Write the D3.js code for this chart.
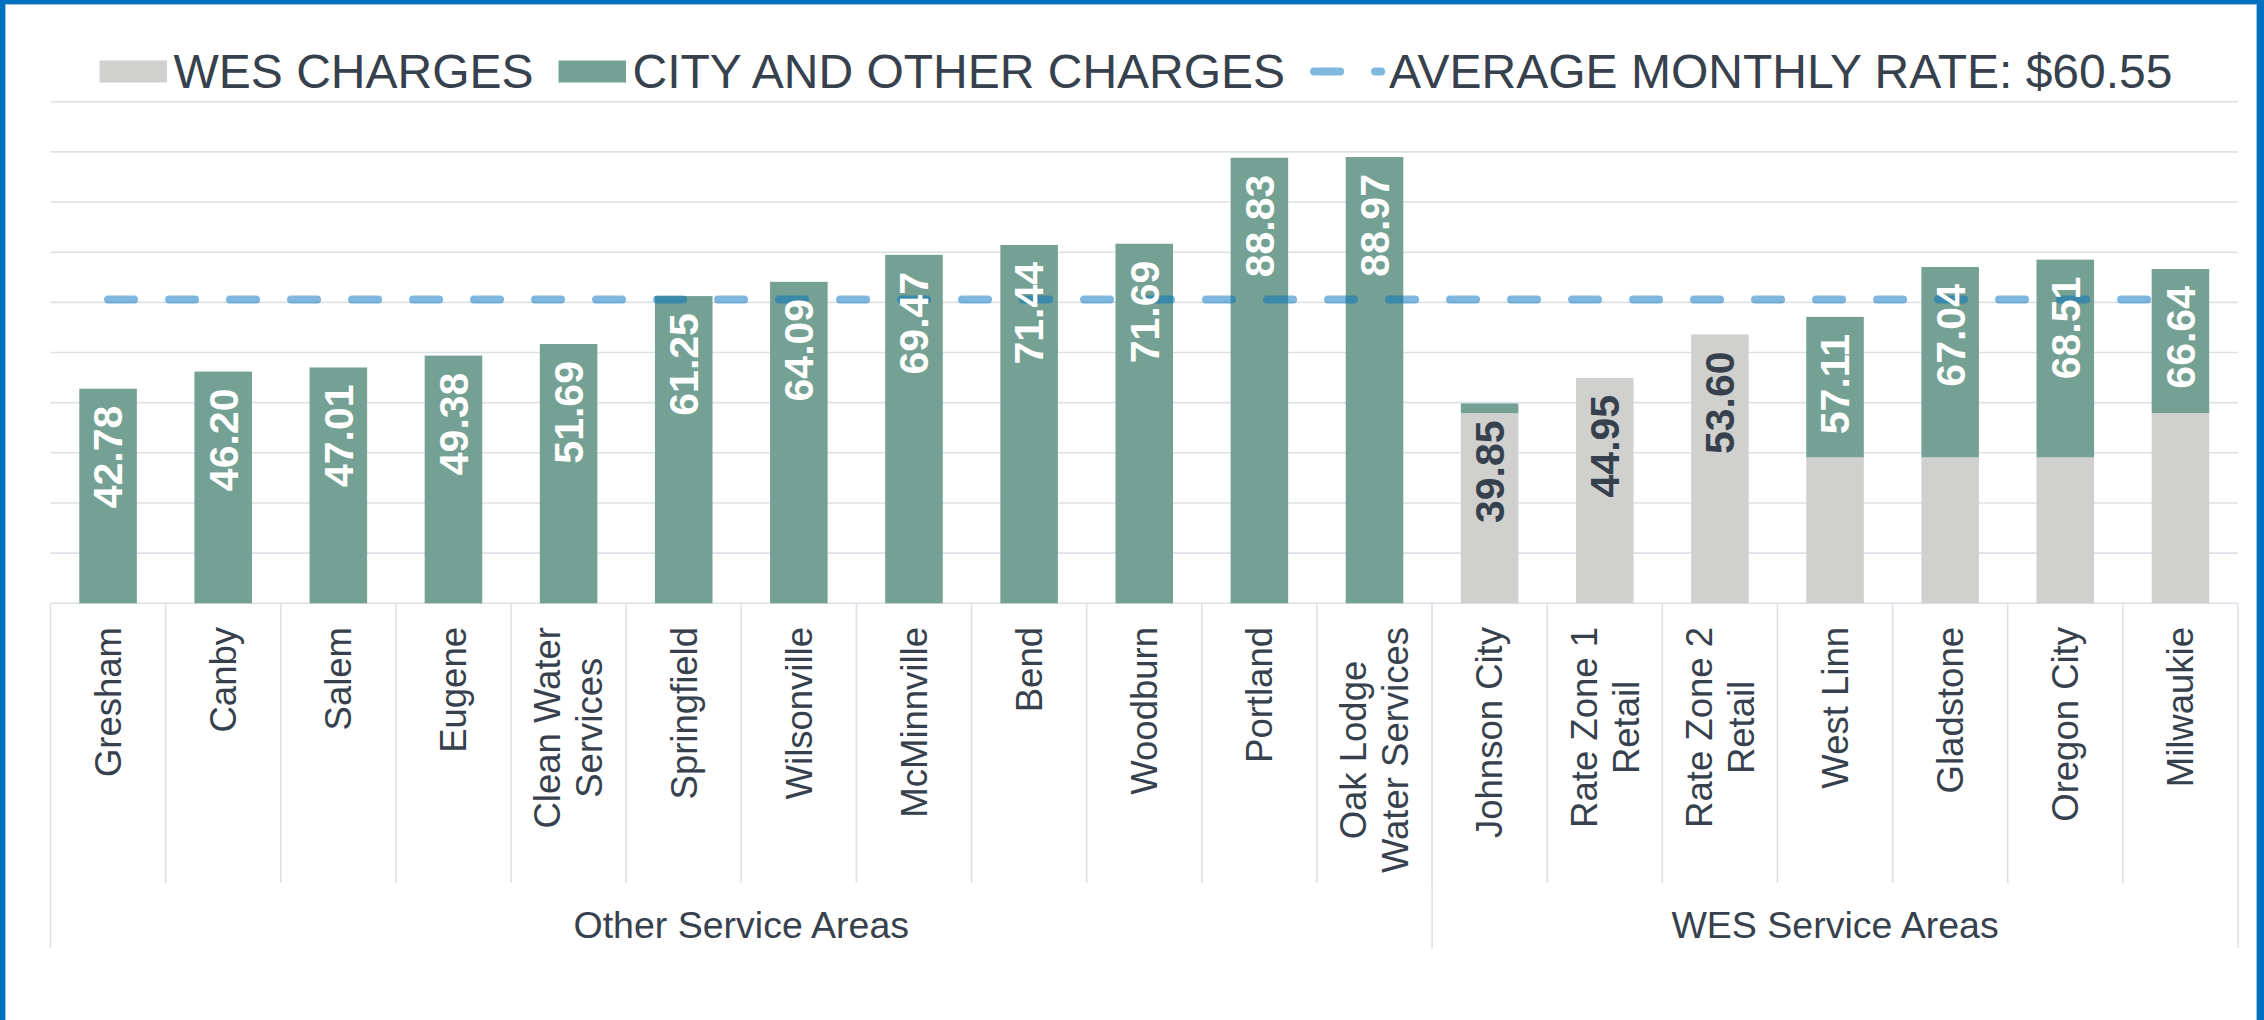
<!DOCTYPE html>
<html>
<head>
<meta charset="utf-8">
<script src="https://cdn.jsdelivr.net/npm/d3@7"></script>
<style>
  body { margin: 0; background: #fff; }
  svg { display: block; font-family: "Liberation Sans", Arial, sans-serif; }
</style>
</head>
<body>
<svg id="chart" width="2264" height="1020"></svg>
<script>
// categories, in plot order
const categories = [
    "Gresham", "Canby", "Salem", "Eugene", "Clean Water\nServices", "Springfield",
    "Wilsonville", "McMinnville", "Bend", "Woodburn", "Portland", "Oak Lodge\nWater Services",
    "Johnson City", "Rate Zone 1\nRetail", "Rate Zone 2\nRetail", "West Linn", "Gladstone",
    "Oregon City", "Milwaukie"
];
const groups = [
    { name: "Other Service Areas", first: 0, last: 11 },
    { name: "WES Service Areas", first: 12, last: 18 }
];
// monthly charges ($)
const wesCharges  = [0, 0, 0, 0, 0, 0, 0, 0, 0, 0, 0, 0, 37.90, 44.95, 53.60, 29.10, 29.10, 29.10, 37.90];
const cityCharges = [42.78, 46.20, 47.01, 49.38, 51.69, 61.25, 64.09, 69.47, 71.44, 71.69, 88.83, 88.97,
                     1.95, 0, 0, 28.01, 37.94, 39.41, 28.74];
const averageRate = 60.55;
const yTicks = [0, 10, 20, 30, 40, 50, 60, 70, 80, 90, 100];

const seriesNames = ["WES CHARGES", "CITY AND OTHER CHARGES"];
const colors = { wes: "#d0d0cf", city: "#75a194", line: "#0070c0", text: "#36414d", grid: "#dde1e7" };

let svg = d3.select("#chart");

let data = categories.map(function (c, i) {
    return { name: c, wes: wesCharges[i], city: cityCharges[i], total: wesCharges[i] + cityCharges[i] };
});

let x = d3.scaleBand()
    .domain(d3.range(categories.length))
    .range([50.5, 2238])
    .paddingInner(0.5)
    .paddingOuter(0.25);
let y = d3.scaleLinear().domain([0, 100]).range([603.3, 101.7]);
let step = x.step();
let left = 50.5, right = 2238;
function bandLeft(i) { return left + i * step; }

// gridlines
svg.append("g")
    .selectAll("line")
    .data(yTicks)
    .enter()
    .append("line")
    .attr("x1", left).attr("x2", right)
    .attr("y1", d => y(d)).attr("y2", d => y(d))
    .attr("stroke", colors.grid)
    .attr("stroke-width", 1.6);

// category separators and group separators
let axisG = svg.append("g").attr("stroke", colors.grid).attr("stroke-width", 1.6);
axisG.selectAll(".sep")
    .data(d3.range(1, categories.length))
    .enter()
    .append("line")
    .attr("x1", d => bandLeft(d)).attr("x2", d => bandLeft(d))
    .attr("y1", y(0)).attr("y2", 883);
let groupEdges = [0, groups[0].last + 1, categories.length];
axisG.selectAll(".gsep")
    .data(groupEdges)
    .enter()
    .append("line")
    .attr("x1", d => bandLeft(d)).attr("x2", d => bandLeft(d))
    .attr("y1", y(0)).attr("y2", 948);

// stacked bars
let stack = d3.stack().keys(["wes", "city"]);
let stacked = stack(data);
svg.append("g")
    .selectAll("g")
    .data(stacked)
    .enter()
    .append("g")
    .attr("fill", d => colors[d.key])
    .selectAll("rect")
    .data(d => d)
    .enter()
    .append("rect")
    .attr("x", (d, i) => x(i))
    .attr("width", x.bandwidth())
    .attr("y", d => y(d[1]))
    .attr("height", d => y(d[0]) - y(d[1]));

// average line across category centres
let lineGen = d3.line()
    .x(d => d[0])
    .y(d => d[1]);
let cx0 = x(0) + x.bandwidth() / 2;
let cx1 = x(categories.length - 1) + x.bandwidth() / 2;
svg.append("path")
    .attr("d", lineGen([[cx0, y(averageRate)], [cx1, y(averageRate)]]))
    .attr("fill", "none")
    .attr("stroke", colors.line)
    .attr("stroke-opacity", 0.5)
    .attr("stroke-width", 8)
    .attr("stroke-linecap", "round")
    .attr("stroke-dasharray", "26,35");

// data labels (inside end, rotated)
svg.append("g")
    .selectAll("text")
    .data(data)
    .enter()
    .append("text")
    .attr("transform", (d, i) => "translate(" + (x(i) + x.bandwidth() / 2) + "," + (y(d.total) + 17) + ") rotate(-90)")
    .attr("text-anchor", "end")
    .attr("dy", "0.35em")
    .attr("font-size", "41px")
    .attr("font-weight", "bold")
    .attr("fill", d => d.city < 5 ? colors.text : "#ffffff")
    .text(d => d.total.toFixed(2));

// category labels
let catG = svg.append("g");
data.forEach(function (d, i) {
    let lines = d.name.split("\n");
    let t = catG.append("text")
        .attr("font-size", "36.5px")
        .attr("fill", colors.text)
        .attr("text-anchor", "middle");
    lines.forEach(function (ln, k) {
        t.append("tspan")
            .attr("x", 0)
            .attr("y", (k - (lines.length - 1) / 2) * 42)
            .attr("dy", "0.35em")
            .text(ln);
    });
    let maxLen = d3.max(t.selectAll("tspan").nodes(), n => n.getComputedTextLength());
    t.attr("transform", "translate(" + (x(i) + x.bandwidth() / 2) + "," + (627 + maxLen / 2) + ") rotate(-90)");
});

// group labels
svg.append("g")
    .selectAll("text")
    .data(groups)
    .enter()
    .append("text")
    .attr("x", d => (bandLeft(d.first) + bandLeft(d.last + 1)) / 2)
    .attr("y", 938)
    .attr("text-anchor", "middle")
    .attr("font-size", "37.5px")
    .attr("fill", colors.text)
    .text(d => d.name);

// legend
let legend = svg.append("g");
let lx = 99.5;
let legendY = 71.5;
[["wes", seriesNames[0]], ["city", seriesNames[1]]].forEach(function (item) {
    legend.append("rect")
        .attr("x", lx).attr("y", 60.5)
        .attr("width", 67.5).attr("height", 22)
        .attr("fill", colors[item[0]]);
    let txt = legend.append("text")
        .attr("x", lx + 74).attr("y", 87.5)
        .attr("font-size", "48px")
        .attr("fill", colors.text)
        .text(item[1]);
    lx = lx + 74 + txt.node().getComputedTextLength() + 25;
});
legend.append("path")
    .attr("d", lineGen([[lx + 4, legendY], [lx + 71, legendY]]))
    .attr("fill", "none")
    .attr("stroke", colors.line)
    .attr("stroke-opacity", 0.5)
    .attr("stroke-width", 8)
    .attr("stroke-linecap", "round")
    .attr("stroke-dasharray", "26,35");
legend.append("text")
    .attr("x", lx + 79).attr("y", 87.5)
    .attr("font-size", "48px")
    .attr("fill", colors.text)
    .text("AVERAGE MONTHLY RATE: $" + averageRate.toFixed(2));

// frame
let frame = svg.append("g").attr("fill", colors.line);
frame.append("rect").attr("x", 0).attr("y", 0).attr("width", 2264).attr("height", 4);
frame.append("rect").attr("x", 0).attr("y", 0).attr("width", 5).attr("height", 1020);
frame.append("rect").attr("x", 2257).attr("y", 0).attr("width", 7).attr("height", 1020);
let inner = svg.append("g").attr("fill", "#9cc4e8");
inner.append("rect").attr("x", 5).attr("y", 4).attr("width", 1).attr("height", 1016);
inner.append("rect").attr("x", 5).attr("y", 4).attr("width", 2252).attr("height", 1);
inner.append("rect").attr("x", 2256).attr("y", 4).attr("width", 1).attr("height", 1016);
</script>
</body>
</html>
